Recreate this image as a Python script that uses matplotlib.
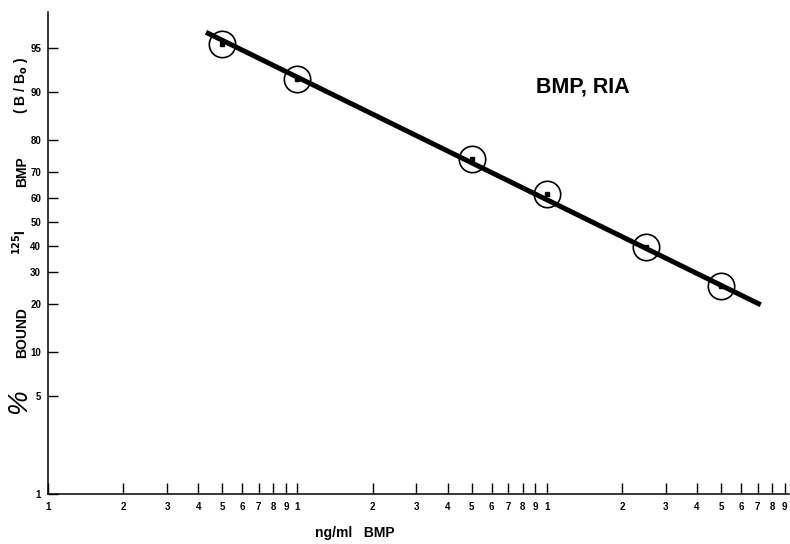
import matplotlib.pyplot as plt

plt.rcParams['font.family'] = ['Liberation Sans', 'DejaVu Sans']
plt.rcParams['font.weight'] = 'bold'

# measured points (ng/ml BMP, % bound)
conc = [5, 10, 50, 100, 250, 500]
bound = [95.3, 91.8, 74.5, 61.8, 39.5, 25.3]

# fitted line ends
fit_conc = [4.3, 720]
fit_bound = [96.1, 19.8]

y_ticks = [1, 5, 10, 20, 30, 40, 50, 60, 70, 80, 90, 95]
x_ticks = [d * 10 ** e for e in range(3) for d in range(1, 10)]
x_labels = [str(d) for e in range(3) for d in range(1, 10)]

W, H = 790, 544
fig = plt.figure(figsize=(W / 100, H / 100), dpi=100)
ax = fig.add_axes([48 / W, 1 - 494 / H, (789 - 48) / W, (494 - 12) / H])

ax.set_xscale('log')
ax.set_yscale('logit')

fb = [v / 100 for v in fit_bound]
ax.plot(fit_conc, fb, color='black', lw=3.6, solid_capstyle='butt', zorder=2)
b = [v / 100 for v in bound]
ax.plot(conc, b, linestyle='none', marker='o', ms=19, mfc='none', mec='black', mew=1.2, zorder=3)
ax.plot(conc, b, linestyle='none', marker='s', ms=2.5, color='black', zorder=3)

ax.set_xlim(1, 935)
ax.set_ylim(0.0109, 0.972)

ax.set_xticks(x_ticks)
ax.set_xticklabels(x_labels)
ax.xaxis.set_minor_locator(plt.NullLocator())
ax.set_yticks([t / 100 for t in y_ticks])
ax.set_yticklabels([str(t) for t in y_ticks])
ax.yaxis.set_minor_locator(plt.NullLocator())

ax.tick_params(axis='x', direction='in', length=8, width=1, pad=6, labelsize=7)
ax.tick_params(axis='y', direction='in', length=7, width=1, pad=5, labelsize=7)
for lab in ax.get_xticklabels() + ax.get_yticklabels():
    lab.set_fontweight('bold')

for s in ['top', 'right']:
    ax.spines[s].set_visible(False)
for s in ['left', 'bottom']:
    ax.spines[s].set_linewidth(1.1)

fig.text(583 / W, 1 - 87 / H, 'BMP, RIA', fontsize=15.5, fontweight='bold', ha='center', va='center')
fig.text(355 / W, 1 - 533 / H, 'ng/ml   BMP', fontsize=10, fontweight='bold', ha='center', va='center')

# y axis title in pieces
fig.text(19 / W, 1 - 402 / H, '%', fontsize=20, fontweight='normal', style='italic',
         rotation=90, ha='center', va='center')
fig.text(22 / W, 1 - 333 / H, 'BOUND', fontsize=10, fontweight='bold', rotation=90, ha='center', va='center')
fig.text(20 / W, 1 - 242 / H, r'$^{\mathbf{125}}$I', fontsize=10, fontweight='bold', rotation=90, ha='center', va='center')
fig.text(22 / W, 1 - 172 / H, 'BMP', fontsize=10, fontweight='bold', rotation=90, ha='center', va='center')
fig.text(21 / W, 1 - 85 / H, r'( B / B$_{\mathbf{o}}$ )', fontsize=10, fontweight='bold', rotation=90, ha='center', va='center')

fig.savefig('out.png', dpi=100)
